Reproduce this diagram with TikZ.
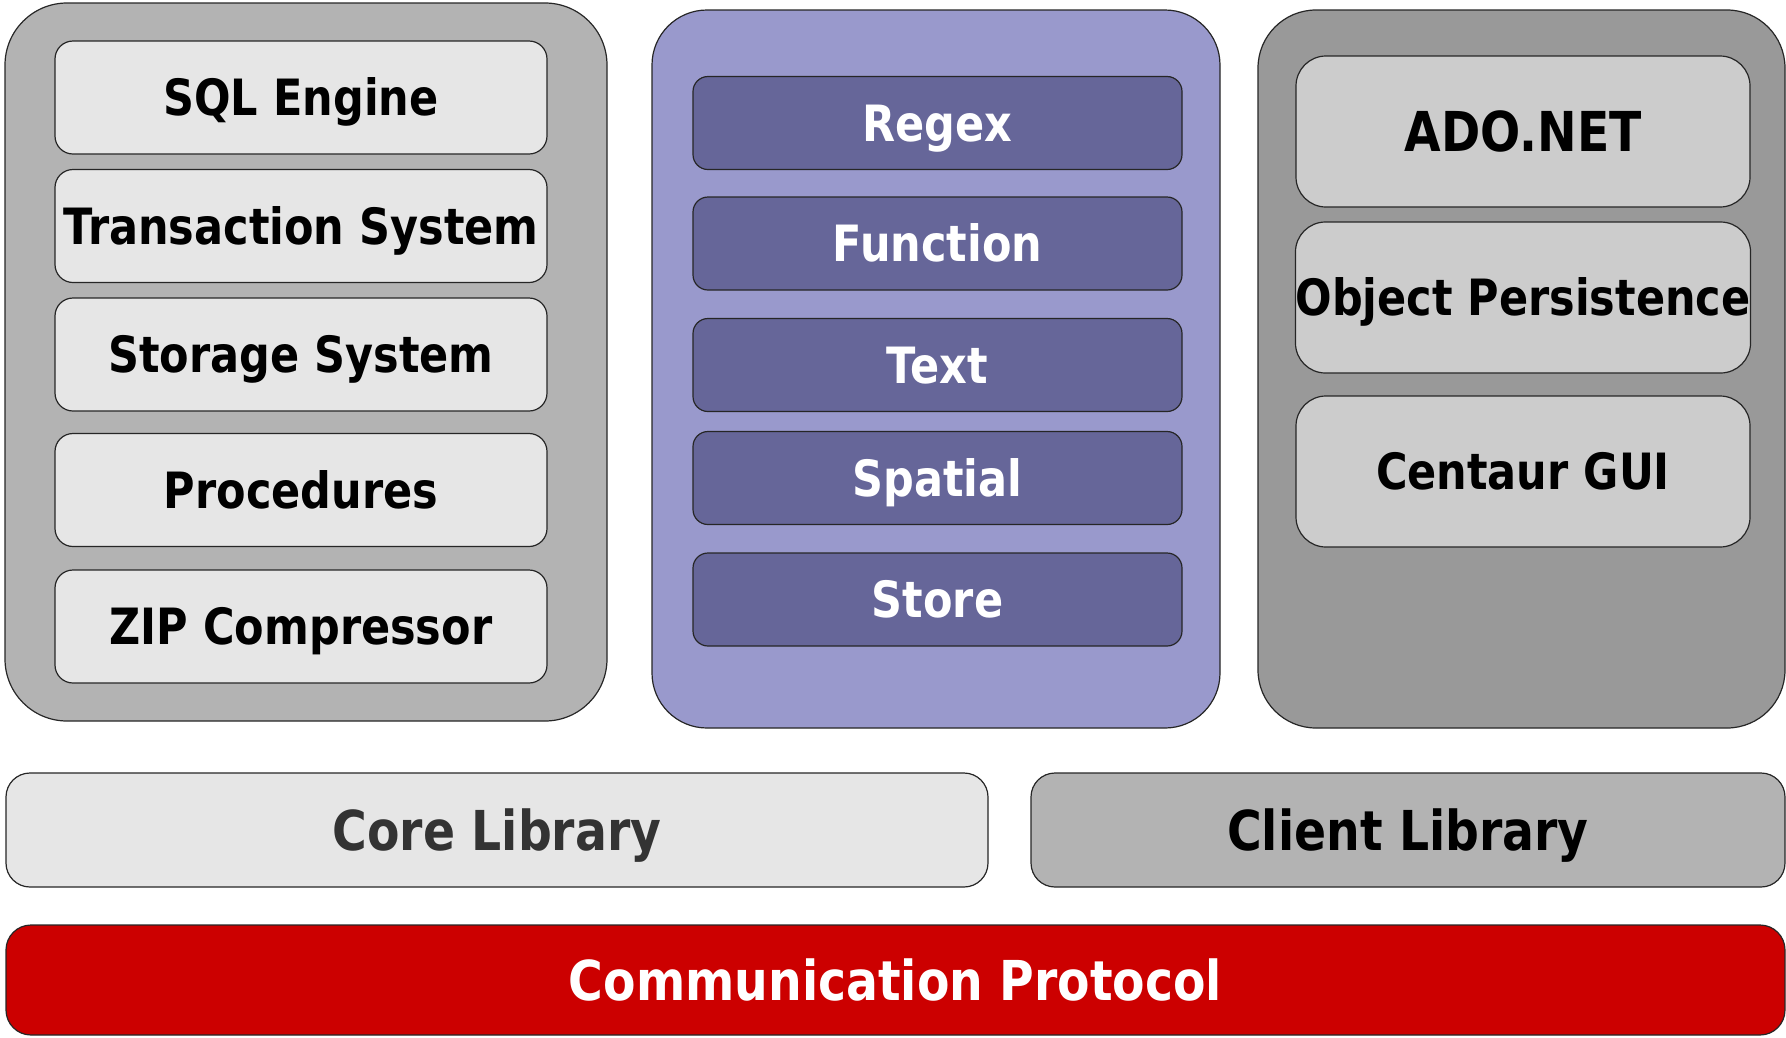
\documentclass[tikz,border=0pt]{standalone}
\usepackage{fontspec}
\setmainfont{DejaVu Sans}[FakeStretch=0.86]
\definecolor{grpL}{HTML}{B3B3B3}
\definecolor{boxL}{HTML}{E6E6E6}
\definecolor{grpM}{HTML}{9999CC}
\definecolor{boxM}{HTML}{666699}
\definecolor{grpR}{HTML}{999999}
\definecolor{boxR}{HTML}{CCCCCC}
\definecolor{coreT}{HTML}{333333}
\definecolor{redB}{HTML}{CC0000}
\definecolor{edge}{HTML}{262626}
\tikzset{
  base/.style={draw=edge, line width=1.2pt, inner sep=0pt, text depth=0pt, font=\bfseries, align=center},
  grp/.style={base, rounded corners=#1},
  lbox/.style={base, fill=boxL, rounded corners=18pt, minimum width=492pt, minimum height=113pt, text height=36.5pt, font=\fontsize{50}{58}\selectfont\bfseries},
  mbox/.style={base, fill=boxM, text=white, rounded corners=15pt, minimum width=489pt, minimum height=93pt, text height=36.5pt, font=\fontsize{50}{58}\selectfont\bfseries},
  rbox/.style={base, fill=boxR, rounded corners=30pt, minimum width=454pt, minimum height=151pt, text height=36.5pt, font=\fontsize{50}{58}\selectfont\bfseries},
  bigtext/.style={text height=40pt, font=\fontsize{55}{62}\selectfont\bfseries},
  bar/.style={base, rounded corners=24pt, minimum height=114pt, bigtext}
}
\begin{document}
\begin{tikzpicture}[x=1pt, y=-1pt]
\useasboundingbox (0,0) rectangle (1786,1037);
% groups
\node[grp=62pt, fill=grpL, minimum width=602pt, minimum height=718pt] (gL) at (306,362) {};
\node[grp=55pt, fill=grpM, minimum width=568pt, minimum height=718pt] (gM) at (936,369) {};
\node[grp=58pt, fill=grpR, minimum width=527pt, minimum height=718pt] (gR) at (1521.5,369) {};
% left column
\node[lbox] (sql) at (301,97.5) {SQL Engine};
\node[lbox] (trans) at (301,226) {Transaction System};
\node[lbox] (stor) at (301,354.5) {Storage System};
\node[lbox] (proc) at (301,490) {Procedures};
\node[lbox] (zip) at (301,626.5) {ZIP Compressor};
% middle column
\node[mbox] (regex) at (937.5,123) {Regex};
\node[mbox] (func) at (937.5,243.5) {Function};
\node[mbox] (text) at (937.5,365) {Text};
\node[mbox] (spat) at (937.5,478) {Spatial};
\node[mbox] (store) at (937.5,599.5) {Store};
% right column
\node[rbox, bigtext] (ado) at (1523,131.5) {ADO.NET};
\node[rbox] (obj) at (1523,297.5) {Object Persistence};
\node[rbox] (cgui) at (1523,471.5) {Centaur GUI};
% bars
\node[bar, fill=boxL, text=coreT, minimum width=982pt] (core) at (497,830) {Core Library};
\node[bar, fill=grpL, minimum width=754pt] (client) at (1408,830) {Client Library};
\node[bar, fill=redB, text=white, rounded corners=25pt, minimum width=1779pt, minimum height=110pt] (proto) at (895.5,980) {Communication Protocol};
\end{tikzpicture}
\end{document}
